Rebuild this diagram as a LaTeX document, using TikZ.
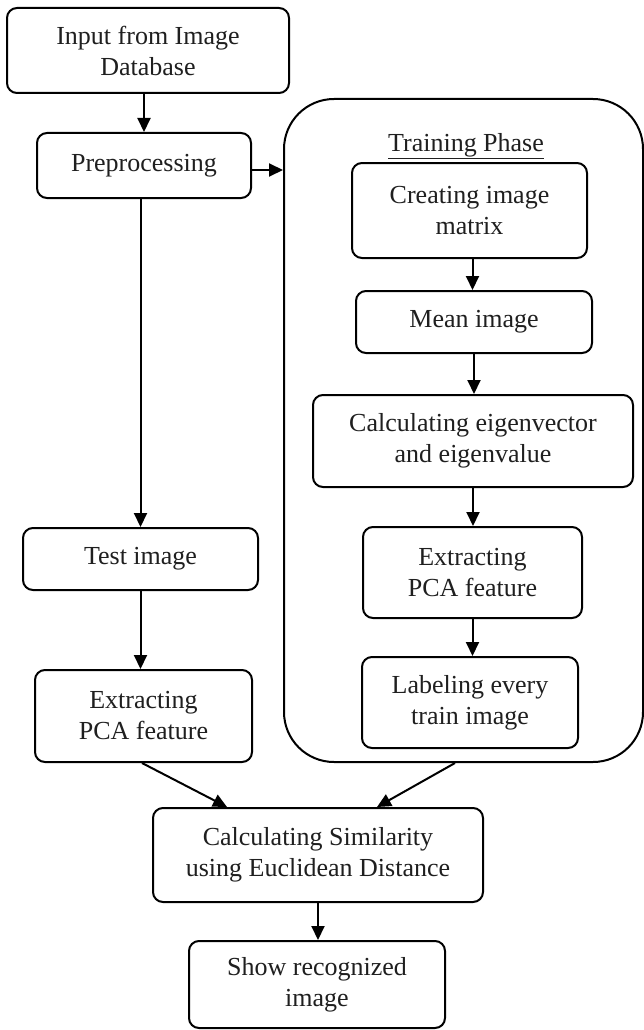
\documentclass[tikz,border=0pt]{standalone}
\usepackage{fontspec}
\setmainfont{Liberation Serif}
\usetikzlibrary{arrows.meta}
\begin{document}
\begin{tikzpicture}[x=1pt,y=-1pt,
  box/.style={draw, line width=2pt, rounded corners=10pt, align=center, inner sep=0pt,
    text=black!88, font=\fontsize{26}{31}\selectfont},
  arr/.style={line width=2pt, -{Triangle[length=14pt,width=13pt]}},
]
\useasboundingbox[fill=white] (0,0) rectangle (644,1030);
% left column
\node[box, minimum width=282pt, minimum height=85pt] (in) at (148,50.5) {Input from Image\\Database};
\node[box, minimum width=214pt, minimum height=65pt] (pre) at (144,165.5) {Preprocessing};
\node[box, minimum width=235pt, minimum height=62pt] (test) at (140.5,559) {Test image};
\node[box, minimum width=217pt, minimum height=92pt] (extl) at (143.5,716) {Extracting\\PCA feature};
% training phase
\node[draw, line width=2pt, rounded corners=50pt, minimum width=359pt, minimum height=663pt, inner sep=0pt] (train) at (463.5,430.5) {};
\node[text=black!88, font=\fontsize{26}{31}\selectfont, inner sep=0pt] (tlabel) at (466,146) {\underline{Training Phase}};
\node[box, minimum width=235pt, minimum height=95pt] (cr) at (469.5,210.5) {Creating image\\matrix};
\node[box, minimum width=236pt, minimum height=62pt] (mean) at (474,322) {Mean image};
\node[box, minimum width=320pt, minimum height=92pt] (calc) at (473,441) {Calculating eigenvector\\and eigenvalue};
\node[box, minimum width=219pt, minimum height=91pt] (extr) at (472.5,572.5) {Extracting\\PCA feature};
\node[box, minimum width=216pt, minimum height=91pt] (lab) at (470,702.5) {Labeling every\\train image};
% bottom
\node[box, minimum width=330pt, minimum height=94pt] (sim) at (318,855) {Calculating Similarity\\using Euclidean Distance};
\node[box, minimum width=256pt, minimum height=87pt] (show) at (317,984.5) {Show recognized\\image};
% connectors
\draw[arr] (in.south -| pre.north) -- (pre.north);
\draw[arr] ([yshift=-4.5pt]pre.east) -- ([yshift=-4.5pt]pre.east -| train.west);
\draw[arr] (pre.south -| test.north) -- (test.north);
\draw[arr] (test.south) -- (test.south |- extl.north);
\draw[arr] ([xshift=3pt]cr.south) -- ([xshift=3pt]cr.south |- mean.north);
\draw[arr] (mean.south) -- (mean.south |- calc.north);
\draw[arr] (calc.south) -- (calc.south |- extr.north);
\draw[arr] (extr.south) -- (extr.south |- lab.north);
\draw[arr] ([xshift=-1.5pt]extl.south) -- ([xshift=-91pt]sim.north);
\draw[arr] ([xshift=-8.5pt]train.south) -- ([xshift=59pt]sim.north);
\draw[arr] (sim.south) -- (sim.south |- show.north);
\end{tikzpicture}
\end{document}
